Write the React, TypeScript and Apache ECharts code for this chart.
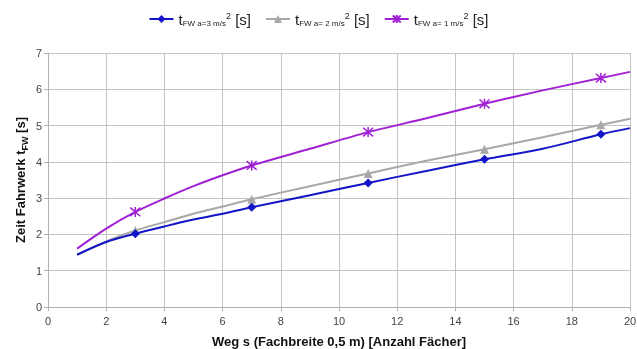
import React, { useEffect, useRef } from "react";
import * as echarts from "echarts";

// Weg s in Fächern (x) und Fahrzeit t_FW in Sekunden für drei Beschleunigungen
const wegS = [1, 2, 3, 4, 5, 6, 7, 9, 11, 13, 15, 17, 19, 20];
const tA3 = [1.44, 1.79, 2.02, 2.22, 2.41, 2.57, 2.75, 3.08, 3.42, 3.75, 4.07, 4.36, 4.76, 4.93];
const tA2 = [1.44, 1.81, 2.11, 2.34, 2.57, 2.77, 2.97, 3.33, 3.68, 4.03, 4.35, 4.68, 5.02, 5.19];
const tA1 = [1.61, 2.16, 2.62, 2.99, 3.33, 3.63, 3.9, 4.36, 4.82, 5.2, 5.6, 5.97, 6.31, 6.48];
// Markierte Stützstellen
const markedS = [3, 7, 11, 15, 19];
const xTicks = { min: 0, max: 20, interval: 2 };
const yTicks = { min: 0, max: 7, interval: 1 };

const legendLabels: Record<string, string> = {
  a3: "{t|t}{sub|FW a=3 m/s}{sup|2}{s| [s]}",
  a2: "{t|t}{sub|FW a= 2 m/s}{sup|2}{s| [s]}",
  a1: "{t|t}{sub|FW a= 1 m/s}{sup|2}{s| [s]}",
};

const asterisk = "path://M5,0L5,10M0.7,0.7L9.3,9.3M0.7,9.3L9.3,0.7";

function points(ys: number[], symbol: string) {
  return wegS.map((x, i) =>
    markedS.includes(x) ? { value: [x, ys[i]], symbol } : { value: [x, ys[i]], symbol: "none" }
  );
}

export default function App() {
  const ref = useRef<HTMLDivElement>(null);
  useEffect(() => {
    if (!ref.current) return;
    const chart = echarts.init(ref.current, null, { renderer: "svg" });
    const font = "Liberation Sans, Arial, sans-serif";
    chart.setOption({
      animation: false,
      textStyle: { fontFamily: font },
      legend: {
        top: 6,
        left: "center",
        itemWidth: 24,
        itemHeight: 10,
        itemGap: 14,
        data: ["a3", "a2", "a1"],
        formatter: (n: string) => legendLabels[n],
        textStyle: {
          color: "#222",
          rich: {
            t: { fontSize: 15, fontFamily: font, color: "#222", lineHeight: 20, verticalAlign: "middle" },
            sub: { fontSize: 8, fontFamily: font, color: "#222", verticalAlign: "middle", padding: [9, 0, 0, 0] },
            sup: { fontSize: 9, fontFamily: font, color: "#222", verticalAlign: "middle", padding: [0, 0, 7, 0] },
            s: { fontSize: 15, fontFamily: font, color: "#222", lineHeight: 20, verticalAlign: "middle" },
          },
        },
      },
      grid: { left: 48, right: 7, top: 53, bottom: 42, containLabel: false, outerBoundsMode: "none" },
      xAxis: {
        type: "value",
        ...xTicks,
        name: "Weg s (Fachbreite 0,5 m) [Anzahl Fächer]",
        nameLocation: "middle",
        nameGap: 28,
        nameMoveOverlap: false,
        nameTextStyle: { fontSize: 13, fontWeight: "bold", color: "#111", fontFamily: font },
        axisLine: { lineStyle: { color: "#b0b0b0" } },
        axisTick: { show: true, length: 4, lineStyle: { color: "#b0b0b0" } },
        axisLabel: { fontSize: 11, color: "#444", margin: 8 },
        splitLine: { show: true, lineStyle: { color: "#c4c4c4", width: 1 } },
      },
      yAxis: {
        type: "value",
        ...yTicks,
        name: "{n|Zeit Fahrwerk t}{sub|FW}{n| [s]}",
        nameLocation: "middle",
        nameRotate: 90,
        nameGap: 19,
        nameMoveOverlap: false,
        nameTextStyle: {
          rich: {
            n: { fontSize: 13, fontWeight: "bold", color: "#111", fontFamily: font, lineHeight: 18 },
            sub: { fontSize: 9, fontWeight: "bold", color: "#111", fontFamily: font, verticalAlign: "bottom", lineHeight: 12 },
          },
        },
        axisLine: { show: true, lineStyle: { color: "#b0b0b0" } },
        axisTick: { show: true, length: 4, lineStyle: { color: "#b0b0b0" } },
        axisLabel: { fontSize: 11, color: "#444", margin: 6 },
        splitLine: { show: true, lineStyle: { color: "#c4c4c4", width: 1 } },
      },
      series: [
        {
          name: "a3",
          type: "line",
          smooth: 0.3,
          symbol: "diamond",
          symbolSize: 9,
          showAllSymbol: true,
          data: points(tA3, "diamond"),
          itemStyle: { color: "#1414c8" },
          lineStyle: { color: "#1414c8", width: 2 },
          z: 4,
        },
        {
          name: "a2",
          type: "line",
          smooth: 0.3,
          symbol: "triangle",
          symbolSize: 9,
          showAllSymbol: true,
          data: points(tA2, "triangle"),
          itemStyle: { color: "#a8a8a8" },
          lineStyle: { color: "#a8a8a8", width: 2 },
          z: 3,
        },
        {
          name: "a1",
          type: "line",
          smooth: 0.3,
          symbol: asterisk,
          symbolSize: 10,
          showAllSymbol: true,
          data: points(tA1, asterisk),
          itemStyle: { color: "none", borderColor: "#a020d4", borderWidth: 1.5 },
          lineStyle: { color: "#a020d4", width: 2 },
          z: 5,
        },
      ],
    });
    return () => chart.dispose();
  }, []);
  return (
    <div
      ref={ref}
      style={{ position: "fixed", left: 0, top: 0, width: 637, height: 349 }}
    />
  );
}
